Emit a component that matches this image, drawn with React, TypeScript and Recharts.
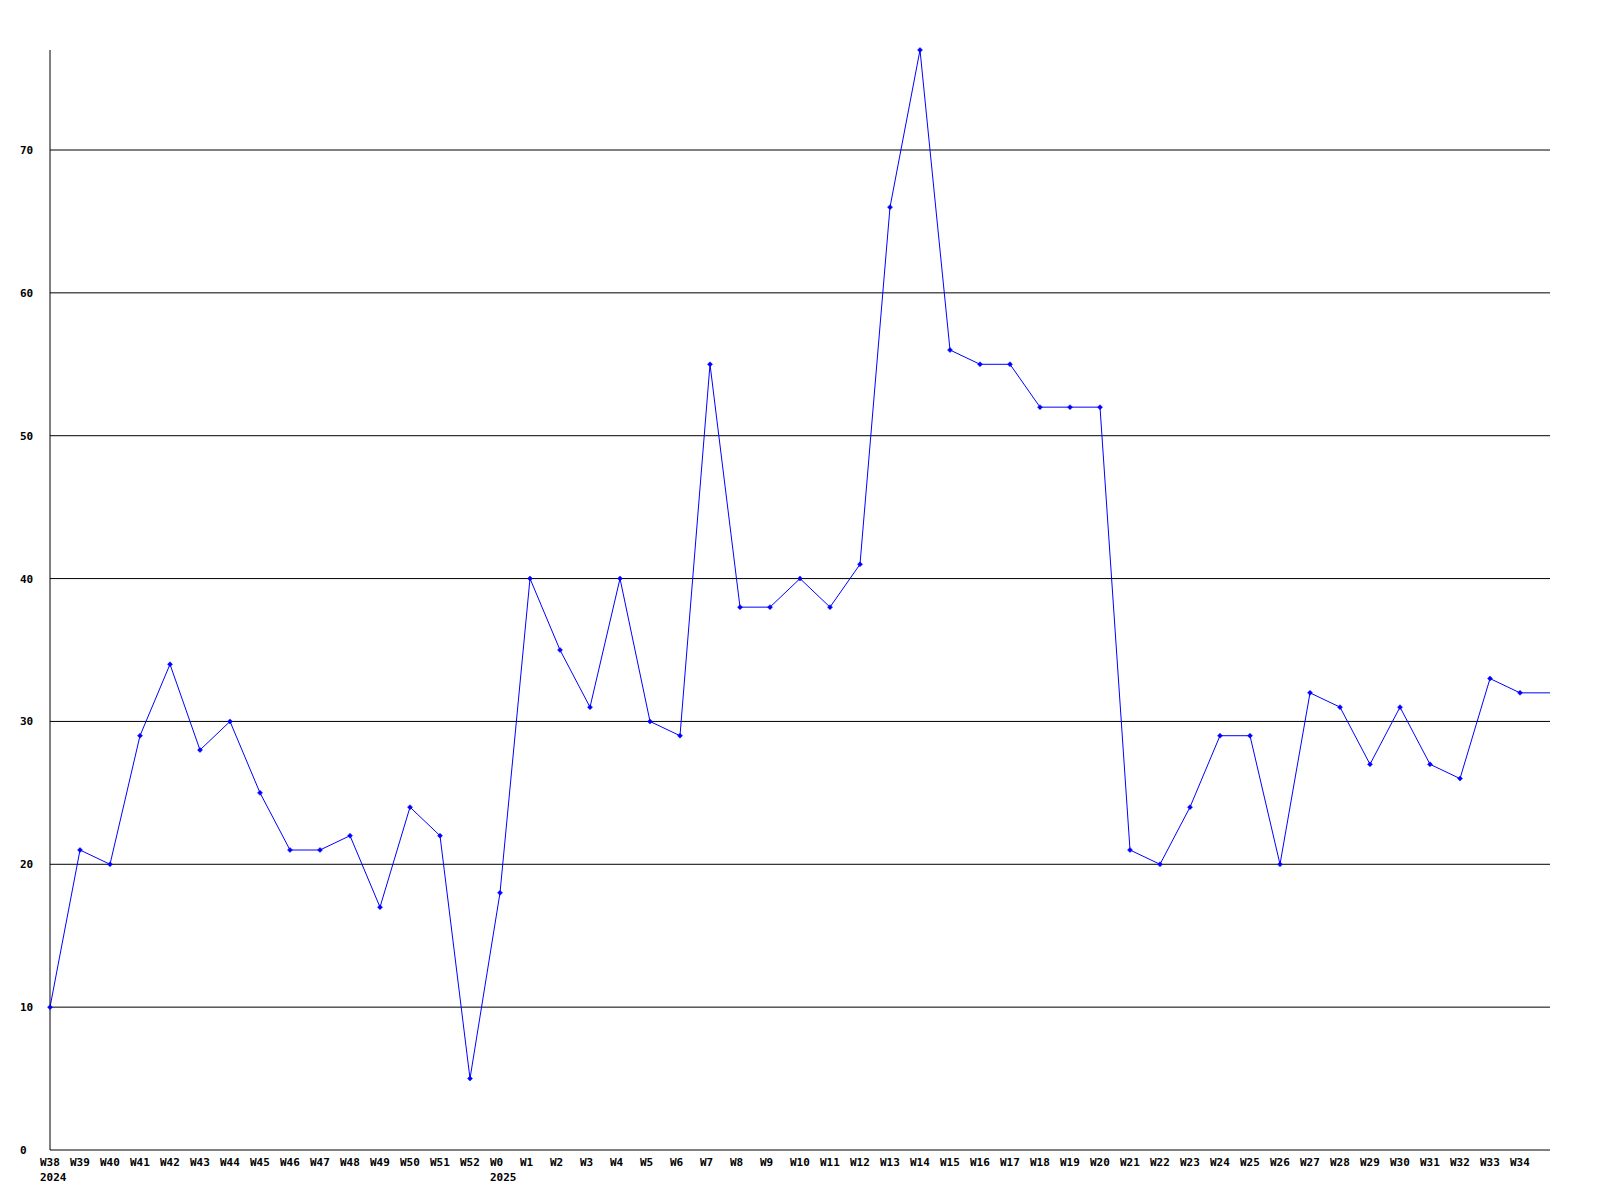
import { LineChart, Line, XAxis, YAxis, ReferenceLine } from 'recharts';

// weeks, 2024 W38 .. 2025 W34; the trailing blank slot carries the last value to the edge
const weeks = [
  'W38', 'W39', 'W40', 'W41', 'W42', 'W43', 'W44', 'W45', 'W46', 'W47', 'W48', 'W49', 'W50', 'W51', 'W52',
  'W0', 'W1', 'W2', 'W3', 'W4', 'W5', 'W6', 'W7', 'W8', 'W9', 'W10', 'W11', 'W12', 'W13', 'W14', 'W15',
  'W16', 'W17', 'W18', 'W19', 'W20', 'W21', 'W22', 'W23', 'W24', 'W25', 'W26', 'W27', 'W28', 'W29', 'W30',
  'W31', 'W32', 'W33', 'W34', '',
];
const counts = [
  10, 21, 20, 29, 34, 28, 30, 25, 21, 21, 22, 17, 24, 22, 5,
  18, 40, 35, 31, 40, 30, 29, 55, 38, 38, 40, 38, 41, 66, 77, 56,
  55, 55, 52, 52, 52, 21, 20, 24, 29, 29, 20, 32, 31, 27, 31,
  27, 26, 33, 32, 32,
];
const yearLabels: Record<string, string> = { W38: '2024', W0: '2025' };
const yTicks = [0, 10, 20, 30, 40, 50, 60, 70];

const data = weeks.map((w, i) => ({ week: w, count: counts[i] }));

const FONT = "'DejaVu Sans Mono', monospace";

function WeekTick(props: any) {
  const { x, y, payload } = props;
  const label: string = payload.value;
  if (!label) return null;
  const year = yearLabels[label];
  return (
    <g>
      <text x={x - 10} y={y + 8} textAnchor="start" fontFamily={FONT} fontWeight="bold" fontSize={11} fill="#000">
        {label}
      </text>
      {year && (
        <text x={x - 10} y={y + 23} textAnchor="start" fontFamily={FONT} fontWeight="bold" fontSize={11} fill="#000">
          {year}
        </text>
      )}
    </g>
  );
}

function ValueTick(props: any) {
  const { y, payload } = props;
  return (
    <text x={20} y={y + 4} textAnchor="start" fontFamily={FONT} fontWeight="bold" fontSize={11} fill="#000">
      {payload.value}
    </text>
  );
}

function Marker(props: any) {
  const { cx, cy, index } = props;
  if (index === weeks.length - 1 || cx == null) return <g key={`d${index}`} />;
  return (
    <path
      key={`d${index}`}
      d={`M${cx - 2.5},${cy} L${cx},${cy - 2.5} L${cx + 2.5},${cy} L${cx},${cy + 2.5} Z`}
      fill="#0000ff"
      stroke="#0000ff"
      strokeWidth={0.5}
    />
  );
}

export default function App() {
  return (
    <div style={{ position: 'absolute', left: 0, top: 0, background: '#fff' }}>
      <LineChart width={1600} height={1200} data={data} margin={{ top: 50, right: 50, bottom: 0, left: 0 }}>
        <XAxis
          dataKey="week"
          type="category"
          interval={0}
          tickLine={false}
          axisLine={{ stroke: '#000' }}
          tick={<WeekTick />}
          height={50}
        />
        <YAxis
          domain={[0, 77]}
          ticks={yTicks}
          tickLine={false}
          axisLine={{ stroke: '#000' }}
          tick={<ValueTick />}
          width={50}
        />
        {yTicks.filter(v => v > 0).map(v => (
          <ReferenceLine key={v} y={v} stroke="#000" strokeWidth={1} />
        ))}
        <Line
          type="linear"
          dataKey="count"
          stroke="#0000ff"
          strokeWidth={1}
          dot={<Marker />}
          activeDot={false}
          isAnimationActive={false}
        />
      </LineChart>
    </div>
  );
}
